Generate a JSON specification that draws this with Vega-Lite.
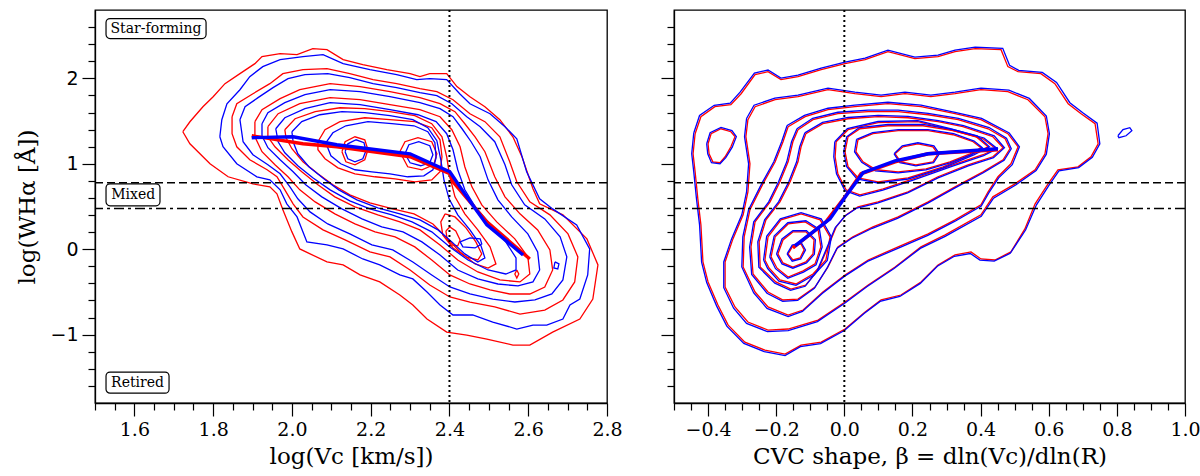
{
  "$schema": "https://vega.github.io/schema/vega-lite/v6.json",
  "padding": {"left": 16, "top": 8, "right": 0, "bottom": 2},
  "spacing": 36,
  "config": {
    "view": {"stroke": "black", "strokeWidth": 1.3},
    "axis": {"grid": false, "domainColor": "black", "domainWidth": 1.3, "tickColor": "black", "tickWidth": 1.2, "tickCount": 100, "labelColor": "black", "titleColor": "black", "labelFontSize": 19, "titleFontSize": 23, "titleFontWeight": "normal", "labelFont": "DejaVu Serif", "titleFont": "DejaVu Serif", "labelOverlap": false, "labelPadding": 4, "titlePadding": 6},
    "axisY": {"labelFont": "DejaVu Sans", "titlePadding": 10},
    "axisX": {"labelFlush": false}
  },
  "hconcat": [
    {
      "width": 512,
      "height": 393,
      "layer": [
        {
          "data": {"values": "s,c,x,y\nr,1,1.723,1.375\nr,1,1.741,1.492\nr,1,1.774,1.668\nr,1,1.800,1.785\nr,1,1.830,1.938\nr,1,1.868,2.055\nr,1,1.906,2.172\nr,1,1.924,2.254\nr,1,1.970,2.289\nr,1,2.013,2.278\nr,1,2.053,2.348\nr,1,2.089,2.336\nr,1,2.130,2.219\nr,1,2.180,2.160\nr,1,2.241,2.102\nr,1,2.300,2.055\nr,1,2.325,2.020\nr,1,2.350,2.055\nr,1,2.393,2.055\nr,1,2.419,1.903\nr,1,2.452,1.785\nr,1,2.490,1.668\nr,1,2.528,1.516\nr,1,2.561,1.316\nr,1,2.584,1.082\nr,1,2.612,0.707\nr,1,2.629,0.531\nr,1,2.688,0.402\nr,1,2.749,0.121\nr,1,2.777,-0.184\nr,1,2.764,-0.583\nr,1,2.731,-0.817\nr,1,2.662,-0.970\nr,1,2.604,-1.122\nr,1,2.561,-1.122\nr,1,2.495,-1.052\nr,1,2.444,-1.005\nr,1,2.393,-0.970\nr,1,2.343,-0.817\nr,1,2.307,-0.653\nr,1,2.274,-0.536\nr,1,2.223,-0.383\nr,1,2.173,-0.301\nr,1,2.130,-0.184\nr,1,2.089,-0.149\nr,1,2.020,0.003\nr,1,2.000,0.203\nr,1,1.977,0.461\nr,1,1.962,0.648\nr,1,1.944,0.730\nr,1,1.901,0.765\nr,1,1.838,0.848\nr,1,1.792,1.000\nr,1,1.741,1.234\nr,1,1.723,1.375\nr,2,1.848,1.551\nr,2,1.860,1.703\nr,2,1.901,1.820\nr,2,1.944,1.938\nr,2,1.977,2.055\nr,2,2.028,2.102\nr,2,2.089,2.114\nr,2,2.147,2.055\nr,2,2.206,1.985\nr,2,2.266,1.938\nr,2,2.325,1.879\nr,2,2.368,1.844\nr,2,2.409,1.750\nr,2,2.452,1.586\nr,2,2.490,1.493\nr,2,2.528,1.316\nr,2,2.553,1.023\nr,2,2.571,0.789\nr,2,2.604,0.554\nr,2,2.655,0.402\nr,2,2.701,0.179\nr,2,2.726,-0.090\nr,2,2.718,-0.383\nr,2,2.688,-0.594\nr,2,2.642,-0.712\nr,2,2.579,-0.759\nr,2,2.515,-0.676\nr,2,2.452,-0.618\nr,2,2.401,-0.559\nr,2,2.350,-0.419\nr,2,2.300,-0.243\nr,2,2.249,-0.090\nr,2,2.198,-0.032\nr,2,2.135,0.109\nr,2,2.079,0.226\nr,2,2.028,0.378\nr,2,2.003,0.531\nr,2,1.982,0.695\nr,2,1.962,0.848\nr,2,1.937,0.930\nr,2,1.893,1.047\nr,2,1.860,1.199\nr,2,1.848,1.352\nr,2,1.848,1.551\nr,3,1.906,1.493\nr,3,1.924,1.633\nr,3,1.970,1.762\nr,3,2.020,1.867\nr,3,2.097,1.938\nr,3,2.173,1.903\nr,3,2.249,1.844\nr,3,2.325,1.774\nr,3,2.376,1.703\nr,3,2.414,1.610\nr,3,2.439,1.469\nr,3,2.465,1.316\nr,3,2.490,1.141\nr,3,2.515,0.848\nr,3,2.541,0.613\nr,3,2.579,0.414\nr,3,2.624,0.226\nr,3,2.655,-0.008\nr,3,2.662,-0.243\nr,3,2.642,-0.442\nr,3,2.604,-0.524\nr,3,2.553,-0.524\nr,3,2.503,-0.477\nr,3,2.452,-0.407\nr,3,2.401,-0.301\nr,3,2.355,-0.126\nr,3,2.312,0.027\nr,3,2.262,0.144\nr,3,2.211,0.203\nr,3,2.160,0.296\nr,3,2.109,0.414\nr,3,2.059,0.554\nr,3,2.020,0.695\nr,3,1.990,0.848\nr,3,1.957,0.988\nr,3,1.924,1.141\nr,3,1.906,1.316\nr,3,1.906,1.493\nr,4,1.939,1.434\nr,4,1.965,1.586\nr,4,2.020,1.703\nr,4,2.097,1.774\nr,4,2.173,1.750\nr,4,2.249,1.692\nr,4,2.325,1.633\nr,4,2.376,1.551\nr,4,2.406,1.399\nr,4,2.427,1.199\nr,4,2.439,0.965\nr,4,2.457,0.730\nr,4,2.482,0.519\nr,4,2.520,0.320\nr,4,2.566,0.121\nr,4,2.599,-0.090\nr,4,2.604,-0.290\nr,4,2.579,-0.383\nr,4,2.528,-0.360\nr,4,2.472,-0.266\nr,4,2.421,-0.126\nr,4,2.376,0.050\nr,4,2.325,0.226\nr,4,2.274,0.320\nr,4,2.218,0.402\nr,4,2.160,0.496\nr,4,2.109,0.613\nr,4,2.066,0.754\nr,4,2.025,0.906\nr,4,1.990,1.047\nr,4,1.957,1.199\nr,4,1.939,1.316\nr,4,1.939,1.434\nr,5,1.982,1.399\nr,5,2.008,1.527\nr,5,2.059,1.610\nr,5,2.122,1.656\nr,5,2.185,1.645\nr,5,2.249,1.610\nr,5,2.312,1.563\nr,5,2.355,1.469\nr,5,2.381,1.316\nr,5,2.393,1.082\nr,5,2.401,0.848\nr,5,2.414,0.613\nr,5,2.439,0.414\nr,5,2.472,0.226\nr,5,2.503,0.027\nr,5,2.518,-0.172\nr,5,2.498,-0.220\nr,5,2.465,-0.172\nr,5,2.427,-0.032\nr,5,2.393,0.132\nr,5,2.358,0.296\nr,5,2.310,0.414\nr,5,2.256,0.472\nr,5,2.198,0.543\nr,5,2.147,0.636\nr,5,2.104,0.754\nr,5,2.066,0.883\nr,5,2.028,1.023\nr,5,2.000,1.176\nr,5,1.985,1.305\nr,5,1.982,1.399\nr,6,2.066,1.258\nr,6,2.084,1.399\nr,6,2.122,1.493\nr,6,2.185,1.539\nr,6,2.249,1.516\nr,6,2.312,1.493\nr,6,2.355,1.422\nr,6,2.376,1.281\nr,6,2.381,1.082\nr,6,2.376,0.906\nr,6,2.355,0.812\nr,6,2.312,0.789\nr,6,2.262,0.824\nr,6,2.211,0.848\nr,6,2.160,0.883\nr,6,2.117,0.953\nr,6,2.084,1.059\nr,6,2.066,1.164\nr,6,2.066,1.258\nr,7,2.127,1.141\nr,7,2.135,1.258\nr,7,2.160,1.316\nr,7,2.185,1.281\nr,7,2.193,1.164\nr,7,2.185,1.047\nr,7,2.160,0.988\nr,7,2.137,1.023\nr,7,2.127,1.141\nr,8,2.274,1.141\nr,8,2.287,1.258\nr,8,2.320,1.305\nr,8,2.355,1.258\nr,8,2.368,1.117\nr,8,2.360,0.988\nr,8,2.330,0.930\nr,8,2.294,0.965\nr,8,2.274,1.141\nr,9,2.389,0.414\nr,9,2.414,0.378\nr,9,2.442,0.250\nr,9,2.467,0.086\nr,9,2.482,-0.055\nr,9,2.472,-0.126\nr,9,2.442,-0.090\nr,9,2.409,0.015\nr,9,2.383,0.168\nr,9,2.378,0.320\nr,9,2.389,0.414\nr,10,2.391,0.214\nr,10,2.401,0.261\nr,10,2.416,0.214\nr,10,2.427,0.109\nr,10,2.421,0.039\nr,10,2.404,0.050\nr,10,2.394,0.121\nr,10,2.391,0.214\nr,11,2.571,-0.243\nr,11,2.576,-0.290\nr,11,2.571,-0.337\nr,11,2.566,-0.290\nr,11,2.571,-0.243\nb,1,1.817,1.316\nb,1,1.822,1.516\nb,1,1.835,1.703\nb,1,1.868,1.867\nb,1,1.893,2.020\nb,1,1.926,2.137\nb,1,1.970,2.219\nb,1,2.028,2.254\nb,1,2.079,2.278\nb,1,2.130,2.172\nb,1,2.198,2.102\nb,1,2.266,2.043\nb,1,2.317,1.985\nb,1,2.350,1.996\nb,1,2.393,1.985\nb,1,2.426,1.820\nb,1,2.452,1.703\nb,1,2.503,1.586\nb,1,2.541,1.434\nb,1,2.571,1.293\nb,1,2.596,0.906\nb,1,2.629,0.590\nb,1,2.662,0.472\nb,1,2.723,0.285\nb,1,2.756,0.003\nb,1,2.751,-0.301\nb,1,2.731,-0.583\nb,1,2.706,-0.653\nb,1,2.688,-0.817\nb,1,2.647,-0.888\nb,1,2.612,-0.888\nb,1,2.571,-0.934\nb,1,2.510,-0.852\nb,1,2.459,-0.770\nb,1,2.409,-0.770\nb,1,2.376,-0.653\nb,1,2.343,-0.501\nb,1,2.307,-0.348\nb,1,2.274,-0.301\nb,1,2.223,-0.184\nb,1,2.180,-0.114\nb,1,2.130,0.003\nb,1,2.089,0.050\nb,1,2.038,0.086\nb,1,2.013,0.378\nb,1,1.987,0.531\nb,1,1.970,0.695\nb,1,1.944,0.812\nb,1,1.911,0.848\nb,1,1.860,1.000\nb,1,1.825,1.199\nb,1,1.817,1.316\nb,2,1.868,1.516\nb,2,1.881,1.668\nb,2,1.914,1.774\nb,2,1.952,1.891\nb,2,1.990,1.996\nb,2,2.033,2.043\nb,2,2.091,2.055\nb,2,2.147,2.008\nb,2,2.206,1.938\nb,2,2.266,1.891\nb,2,2.325,1.832\nb,2,2.368,1.797\nb,2,2.406,1.703\nb,2,2.444,1.551\nb,2,2.478,1.434\nb,2,2.515,1.258\nb,2,2.541,0.988\nb,2,2.558,0.754\nb,2,2.591,0.519\nb,2,2.642,0.355\nb,2,2.681,0.144\nb,2,2.698,-0.090\nb,2,2.688,-0.360\nb,2,2.660,-0.524\nb,2,2.617,-0.594\nb,2,2.566,-0.618\nb,2,2.510,-0.583\nb,2,2.452,-0.524\nb,2,2.401,-0.442\nb,2,2.355,-0.301\nb,2,2.307,-0.149\nb,2,2.256,-0.008\nb,2,2.203,0.050\nb,2,2.147,0.179\nb,2,2.091,0.296\nb,2,2.046,0.437\nb,2,2.015,0.590\nb,2,1.995,0.730\nb,2,1.970,0.883\nb,2,1.939,0.988\nb,2,1.901,1.106\nb,2,1.876,1.258\nb,2,1.868,1.516\nb,3,1.924,1.469\nb,3,1.939,1.598\nb,3,1.982,1.715\nb,3,2.033,1.809\nb,3,2.097,1.867\nb,3,2.173,1.844\nb,3,2.249,1.785\nb,3,2.325,1.715\nb,3,2.376,1.645\nb,3,2.409,1.551\nb,3,2.432,1.410\nb,3,2.455,1.258\nb,3,2.478,1.082\nb,3,2.498,0.812\nb,3,2.523,0.578\nb,3,2.558,0.378\nb,3,2.599,0.179\nb,3,2.624,-0.032\nb,3,2.629,-0.243\nb,3,2.612,-0.383\nb,3,2.574,-0.430\nb,3,2.523,-0.407\nb,3,2.472,-0.348\nb,3,2.421,-0.243\nb,3,2.376,-0.067\nb,3,2.330,0.086\nb,3,2.282,0.203\nb,3,2.228,0.261\nb,3,2.178,0.355\nb,3,2.127,0.472\nb,3,2.076,0.613\nb,3,2.035,0.754\nb,3,2.003,0.906\nb,3,1.970,1.047\nb,3,1.939,1.188\nb,3,1.924,1.328\nb,3,1.924,1.469\nb,4,1.959,1.410\nb,4,1.982,1.539\nb,4,2.033,1.645\nb,4,2.097,1.715\nb,4,2.173,1.692\nb,4,2.249,1.633\nb,4,2.320,1.574\nb,4,2.366,1.493\nb,4,2.393,1.352\nb,4,2.409,1.164\nb,4,2.421,0.930\nb,4,2.439,0.695\nb,4,2.467,0.484\nb,4,2.503,0.296\nb,4,2.543,0.086\nb,4,2.569,-0.102\nb,4,2.569,-0.243\nb,4,2.543,-0.290\nb,4,2.498,-0.243\nb,4,2.447,-0.126\nb,4,2.401,0.027\nb,4,2.355,0.203\nb,4,2.305,0.320\nb,4,2.254,0.402\nb,4,2.198,0.472\nb,4,2.147,0.566\nb,4,2.097,0.695\nb,4,2.053,0.836\nb,4,2.015,0.977\nb,4,1.982,1.129\nb,4,1.965,1.258\nb,4,1.959,1.410\nb,5,2.000,1.375\nb,5,2.025,1.493\nb,5,2.071,1.574\nb,5,2.127,1.610\nb,5,2.185,1.598\nb,5,2.249,1.563\nb,5,2.307,1.516\nb,5,2.345,1.422\nb,5,2.368,1.270\nb,5,2.378,1.047\nb,5,2.386,0.812\nb,5,2.399,0.590\nb,5,2.421,0.402\nb,5,2.452,0.226\nb,5,2.480,0.039\nb,5,2.490,-0.102\nb,5,2.472,-0.149\nb,5,2.439,-0.055\nb,5,2.406,0.086\nb,5,2.371,0.226\nb,5,2.325,0.343\nb,5,2.274,0.414\nb,5,2.218,0.484\nb,5,2.165,0.578\nb,5,2.119,0.695\nb,5,2.081,0.824\nb,5,2.043,0.965\nb,5,2.015,1.117\nb,5,2.003,1.258\nb,5,2.000,1.375\nb,6,2.086,1.246\nb,6,2.104,1.363\nb,6,2.137,1.445\nb,6,2.193,1.493\nb,6,2.254,1.469\nb,6,2.310,1.445\nb,6,2.345,1.375\nb,6,2.363,1.246\nb,6,2.366,1.070\nb,6,2.358,0.930\nb,6,2.335,0.859\nb,6,2.294,0.848\nb,6,2.249,0.883\nb,6,2.203,0.906\nb,6,2.160,0.930\nb,6,2.124,1.000\nb,6,2.099,1.094\nb,6,2.086,1.246\nb,7,2.135,1.141\nb,7,2.142,1.234\nb,7,2.163,1.281\nb,7,2.183,1.246\nb,7,2.188,1.152\nb,7,2.180,1.059\nb,7,2.160,1.023\nb,7,2.142,1.059\nb,7,2.135,1.141\nb,8,2.287,1.117\nb,8,2.297,1.223\nb,8,2.322,1.258\nb,8,2.350,1.211\nb,8,2.358,1.106\nb,8,2.350,1.012\nb,8,2.327,0.977\nb,8,2.300,1.012\nb,8,2.287,1.117\nb,10,2.427,0.086\nb,10,2.452,0.132\nb,10,2.478,0.121\nb,10,2.482,0.062\nb,10,2.465,0.015\nb,10,2.434,0.027\nb,10,2.427,0.086\nb,11,2.668,-0.149\nb,11,2.678,-0.172\nb,11,2.675,-0.231\nb,11,2.665,-0.219\nb,11,2.668,-0.149", "format": {"type": "csv", "parse": {"x": "number", "y": "number"}}},
          "mark": {"type": "line", "strokeWidth": 1.3, "clip": true},
          "encoding": {
            "x": {"field": "x", "type": "quantitative", "scale": {"domain": [1.5, 2.8], "nice": false, "zero": false},
              "axis": {"title": "log(Vc [km/s])", "tickCount": 100, "values": [1.5, 1.55, 1.6, 1.65, 1.7, 1.75, 1.8, 1.85, 1.9, 1.95, 2, 2.05, 2.1, 2.15, 2.2, 2.25, 2.3, 2.35, 2.4, 2.45, 2.5, 2.55, 2.6, 2.65, 2.7, 2.75, 2.8],
                "labelExpr": "abs(datum.value*5-round(datum.value*5))<0.01 ? format(datum.value,'.1f') : ''",
                "tickSize": {"condition": {"test": "abs(datum.value*5-round(datum.value*5))<0.01", "value": 13}, "value": 7}}},
            "y": {"field": "y", "type": "quantitative", "scale": {"domain": [-1.8, 2.8], "nice": false, "zero": false},
              "axis": {"title": "log(WHα [Å])", "tickCount": 100, "values": [-1.6, -1.4, -1.2, -1, -0.8, -0.6, -0.4, -0.2, 0, 0.2, 0.4, 0.6, 0.8, 1, 1.2, 1.4, 1.6, 1.8, 2, 2.2, 2.4, 2.6],
                "labelExpr": "abs(datum.value-round(datum.value))<0.01 ? format(datum.value,'d') : ''",
                "tickSize": {"condition": {"test": "abs(datum.value-round(datum.value))<0.01", "value": 13}, "value": 7}}},
            "color": {"field": "s", "type": "nominal", "scale": {"domain": ["r", "b"], "range": ["#ff0000", "#0000ff"]}, "legend": null},
            "detail": {"field": "c", "type": "nominal"},
            "order": {"value": null}
          }
        },
        {
          "data": {"values": [{"y": 0.778}]},
          "mark": {"type": "rule", "color": "black", "strokeWidth": 1.6, "strokeDash": [8, 4]},
          "encoding": {"y": {"field": "y", "type": "quantitative", "scale": {"domain": [-1.8, 2.8], "nice": false, "zero": false}}}
        },
        {
          "data": {"values": [{"y": 0.477}]},
          "mark": {"type": "rule", "color": "black", "strokeWidth": 1.6, "strokeDash": [10, 4, 3, 4]},
          "encoding": {"y": {"field": "y", "type": "quantitative", "scale": {"domain": [-1.8, 2.8], "nice": false, "zero": false}}}
        },
        {
          "data": {"values": [{"x": 2.4}]},
          "mark": {"type": "rule", "color": "black", "strokeWidth": 2, "strokeDash": [2, 3]},
          "encoding": {"x": {"field": "x", "type": "quantitative", "scale": {"domain": [1.5, 2.8], "nice": false, "zero": false}}}
        },
        {
          "data": {"values": [
            {"s": "r", "x": 1.898, "y": 1.328}, {"s": "r", "x": 2.028, "y": 1.234}, {"s": "r", "x": 2.114, "y": 1.199}, {"s": "r", "x": 2.300, "y": 1.082}, {"s": "r", "x": 2.401, "y": 0.883}, {"s": "r", "x": 2.409, "y": 0.789}, {"s": "r", "x": 2.495, "y": 0.320}, {"s": "r", "x": 2.604, "y": -0.114},
            {"s": "b", "x": 1.898, "y": 1.305}, {"s": "b", "x": 2.003, "y": 1.316}, {"s": "b", "x": 2.114, "y": 1.223}, {"s": "b", "x": 2.300, "y": 1.117}, {"s": "b", "x": 2.401, "y": 0.906}, {"s": "b", "x": 2.444, "y": 0.613}, {"s": "b", "x": 2.495, "y": 0.285}, {"s": "b", "x": 2.587, "y": -0.067}
          ]},
          "mark": {"type": "line", "strokeWidth": 3.4},
          "encoding": {
            "x": {"field": "x", "type": "quantitative", "scale": {"domain": [1.5, 2.8], "nice": false, "zero": false}},
            "y": {"field": "y", "type": "quantitative", "scale": {"domain": [-1.8, 2.8], "nice": false, "zero": false}},
            "color": {"field": "s", "type": "nominal", "scale": {"domain": ["r", "b"], "range": ["#ff0000", "#0000ff"]}, "legend": null},
            "order": {"value": null}
          }
        },
        {
          "data": {"values": [
            {"t": "Star-forming", "x1": 1.528, "x2": 1.782, "y1": 2.465, "y2": 2.700, "xm": 1.655, "ym": 2.582},
            {"t": "Mixed", "x1": 1.528, "x2": 1.665, "y1": 0.508, "y2": 0.765, "xm": 1.597, "ym": 0.636},
            {"t": "Retired", "x1": 1.528, "x2": 1.688, "y1": -1.685, "y2": -1.438, "xm": 1.608, "ym": -1.561}
          ]},
          "layer": [
            {
              "mark": {"type": "rect", "fill": "white", "stroke": "black", "strokeWidth": 1.2, "cornerRadius": 4},
              "encoding": {
                "x": {"field": "x1", "type": "quantitative", "scale": {"domain": [1.5, 2.8], "nice": false, "zero": false}},
                "x2": {"field": "x2"},
                "y": {"field": "y1", "type": "quantitative", "scale": {"domain": [-1.8, 2.8], "nice": false, "zero": false}},
                "y2": {"field": "y2"}
              }
            },
            {
              "mark": {"type": "text", "font": "DejaVu Serif", "fontSize": 14, "color": "black"},
              "encoding": {
                "x": {"field": "xm", "type": "quantitative", "scale": {"domain": [1.5, 2.8], "nice": false, "zero": false}},
                "y": {"field": "ym", "type": "quantitative", "scale": {"domain": [-1.8, 2.8], "nice": false, "zero": false}},
                "text": {"field": "t"}
              }
            }
          ]
        }
      ]
    },
    {
      "width": 511,
      "height": 393,
      "layer": [
        {
          "data": {"values": "s,c,x,y\nr,1,-0.438,1.352\nr,1,-0.421,1.551\nr,1,-0.380,1.668\nr,1,-0.333,1.692\nr,1,-0.303,1.820\nr,1,-0.262,2.043\nr,1,-0.224,2.078\nr,1,-0.186,1.985\nr,1,-0.136,2.020\nr,1,-0.068,2.102\nr,1,0.002,2.172\nr,1,0.061,2.219\nr,1,0.128,2.313\nr,1,0.207,2.231\nr,1,0.275,2.254\nr,1,0.325,2.313\nr,1,0.384,2.348\nr,1,0.460,2.336\nr,1,0.480,2.137\nr,1,0.510,2.078\nr,1,0.577,2.055\nr,1,0.618,1.938\nr,1,0.657,1.703\nr,1,0.695,1.586\nr,1,0.736,1.469\nr,1,0.745,1.234\nr,1,0.724,1.082\nr,1,0.686,0.965\nr,1,0.627,0.930\nr,1,0.598,0.765\nr,1,0.560,0.531\nr,1,0.530,0.238\nr,1,0.489,-0.032\nr,1,0.442,-0.126\nr,1,0.401,-0.114\nr,1,0.372,-0.032\nr,1,0.325,-0.067\nr,1,0.275,-0.184\nr,1,0.225,-0.383\nr,1,0.166,-0.536\nr,1,0.108,-0.594\nr,1,0.061,-0.735\nr,1,0.002,-0.934\nr,1,-0.068,-1.087\nr,1,-0.127,-1.122\nr,1,-0.174,-1.227\nr,1,-0.233,-1.181\nr,1,-0.292,-1.087\nr,1,-0.341,-0.888\nr,1,-0.371,-0.653\nr,1,-0.400,-0.383\nr,1,-0.415,-0.149\nr,1,-0.421,0.285\nr,1,-0.430,0.590\nr,1,-0.438,0.906\nr,1,-0.444,1.117\nr,1,-0.438,1.352\nr,2,-0.283,1.516\nr,2,-0.262,1.668\nr,2,-0.203,1.750\nr,2,-0.136,1.785\nr,2,-0.048,1.867\nr,2,0.031,1.820\nr,2,0.108,1.785\nr,2,0.178,1.820\nr,2,0.254,1.785\nr,2,0.325,1.820\nr,2,0.401,1.867\nr,2,0.480,1.844\nr,2,0.539,1.750\nr,2,0.589,1.551\nr,2,0.598,1.352\nr,2,0.589,1.117\nr,2,0.560,0.930\nr,2,0.501,0.765\nr,2,0.436,0.613\nr,2,0.401,0.402\nr,2,0.296,0.168\nr,2,0.225,0.027\nr,2,0.149,-0.208\nr,2,0.070,-0.419\nr,2,0.002,-0.618\nr,2,-0.077,-0.829\nr,2,-0.165,-0.934\nr,2,-0.224,-0.946\nr,2,-0.283,-0.852\nr,2,-0.321,-0.676\nr,2,-0.350,-0.442\nr,2,-0.350,-0.149\nr,2,-0.327,0.121\nr,2,-0.297,0.402\nr,2,-0.283,0.672\nr,2,-0.277,1.000\nr,2,-0.289,1.317\nr,2,-0.283,1.516\nr,3,-0.165,1.434\nr,3,-0.115,1.551\nr,3,-0.048,1.633\nr,3,0.031,1.668\nr,3,0.128,1.703\nr,3,0.225,1.668\nr,3,0.325,1.586\nr,3,0.401,1.516\nr,3,0.480,1.352\nr,3,0.510,1.199\nr,3,0.489,1.000\nr,3,0.451,0.848\nr,3,0.422,0.672\nr,3,0.401,0.519\nr,3,0.325,0.343\nr,3,0.246,0.179\nr,3,0.158,0.027\nr,3,0.070,-0.126\nr,3,0.002,-0.301\nr,3,-0.063,-0.501\nr,3,-0.121,-0.712\nr,3,-0.165,-0.770\nr,3,-0.224,-0.676\nr,3,-0.262,-0.501\nr,3,-0.297,-0.208\nr,3,-0.294,0.144\nr,3,-0.277,0.461\nr,3,-0.239,0.765\nr,3,-0.203,1.023\nr,3,-0.180,1.258\nr,3,-0.165,1.434\nr,4,-0.136,1.398\nr,4,-0.092,1.516\nr,4,-0.019,1.586\nr,4,0.070,1.610\nr,4,0.158,1.610\nr,4,0.246,1.574\nr,4,0.334,1.516\nr,4,0.422,1.410\nr,4,0.472,1.293\nr,4,0.486,1.176\nr,4,0.466,1.047\nr,4,0.407,0.906\nr,4,0.325,0.730\nr,4,0.246,0.554\nr,4,0.158,0.378\nr,4,0.084,0.261\nr,4,0.025,0.144\nr,4,-0.019,0.027\nr,4,-0.048,-0.208\nr,4,-0.086,-0.442\nr,4,-0.136,-0.583\nr,4,-0.180,-0.594\nr,4,-0.224,-0.501\nr,4,-0.268,-0.290\nr,4,-0.274,0.027\nr,4,-0.262,0.320\nr,4,-0.218,0.554\nr,4,-0.189,0.789\nr,4,-0.165,1.023\nr,4,-0.151,1.258\nr,4,-0.136,1.398\nr,5,-0.113,1.352\nr,5,-0.063,1.469\nr,5,0.011,1.527\nr,5,0.099,1.551\nr,5,0.187,1.539\nr,5,0.275,1.493\nr,5,0.348,1.434\nr,5,0.436,1.317\nr,5,0.466,1.187\nr,5,0.436,1.082\nr,5,0.363,0.988\nr,5,0.275,0.848\nr,5,0.187,0.672\nr,5,0.099,0.554\nr,5,0.040,0.496\nr,5,0.005,0.402\nr,5,-0.024,0.261\nr,5,-0.048,0.027\nr,5,-0.077,-0.243\nr,5,-0.113,-0.419\nr,5,-0.157,-0.466\nr,5,-0.201,-0.383\nr,5,-0.247,-0.208\nr,5,-0.250,0.086\nr,5,-0.230,0.343\nr,5,-0.189,0.554\nr,5,-0.159,0.789\nr,5,-0.136,1.023\nr,5,-0.127,1.199\nr,5,-0.113,1.352\nr,6,-0.024,1.258\nr,6,0.011,1.399\nr,6,0.099,1.481\nr,6,0.216,1.493\nr,6,0.310,1.399\nr,6,0.407,1.293\nr,6,0.445,1.176\nr,6,0.407,1.106\nr,6,0.319,0.988\nr,6,0.202,0.824\nr,6,0.114,0.707\nr,6,0.046,0.637\nr,6,0.005,0.695\nr,6,-0.019,0.883\nr,6,-0.027,1.082\nr,6,-0.024,1.258\nr,7,0.011,1.317\nr,7,0.046,1.410\nr,7,0.128,1.445\nr,7,0.231,1.445\nr,7,0.319,1.387\nr,7,0.387,1.317\nr,7,0.422,1.199\nr,7,0.378,1.117\nr,7,0.290,0.965\nr,7,0.187,0.836\nr,7,0.099,0.789\nr,7,0.040,0.836\nr,7,0.011,0.965\nr,7,0.002,1.141\nr,7,0.011,1.317\nr,8,0.040,1.281\nr,8,0.084,1.352\nr,8,0.158,1.387\nr,8,0.246,1.387\nr,8,0.319,1.340\nr,8,0.378,1.258\nr,8,0.401,1.188\nr,8,0.369,1.117\nr,8,0.310,1.023\nr,8,0.240,0.941\nr,8,0.158,0.906\nr,8,0.093,0.930\nr,8,0.055,1.023\nr,8,0.034,1.141\nr,8,0.040,1.281\nr,9,0.149,1.117\nr,9,0.172,1.199\nr,9,0.216,1.234\nr,9,0.260,1.199\nr,9,0.275,1.117\nr,9,0.260,1.023\nr,9,0.210,0.988\nr,9,0.166,1.023\nr,9,0.149,1.117\nr,10,-0.165,-0.055\nr,10,-0.151,0.039\nr,10,-0.127,0.062\nr,10,-0.118,-0.008\nr,10,-0.130,-0.102\nr,10,-0.151,-0.126\nr,10,-0.165,-0.055\nr,11,-0.195,-0.055\nr,11,-0.180,0.109\nr,11,-0.151,0.203\nr,11,-0.113,0.203\nr,11,-0.089,0.109\nr,11,-0.092,-0.055\nr,11,-0.113,-0.149\nr,11,-0.151,-0.208\nr,11,-0.180,-0.161\nr,11,-0.195,-0.055\nr,12,-0.215,-0.090\nr,12,-0.203,0.144\nr,12,-0.165,0.296\nr,12,-0.115,0.320\nr,12,-0.077,0.226\nr,12,-0.069,0.027\nr,12,-0.086,-0.172\nr,12,-0.121,-0.254\nr,12,-0.165,-0.325\nr,12,-0.198,-0.219\nr,12,-0.215,-0.090\nr,13,-0.233,-0.126\nr,13,-0.224,0.144\nr,13,-0.186,0.343\nr,13,-0.127,0.414\nr,13,-0.071,0.343\nr,13,-0.042,0.144\nr,13,-0.054,-0.126\nr,13,-0.092,-0.290\nr,13,-0.142,-0.407\nr,13,-0.189,-0.360\nr,13,-0.221,-0.219\nr,13,-0.233,-0.126\nr,14,-0.400,1.234\nr,14,-0.391,1.352\nr,14,-0.362,1.410\nr,14,-0.333,1.375\nr,14,-0.321,1.317\nr,14,-0.333,1.199\nr,14,-0.350,1.082\nr,14,-0.365,1.012\nr,14,-0.386,1.023\nr,14,-0.397,1.117\nr,14,-0.400,1.234\nb,1,-0.442,1.360\nb,1,-0.425,1.565\nb,1,-0.382,1.685\nb,1,-0.335,1.710\nb,1,-0.306,1.838\nb,1,-0.264,2.062\nb,1,-0.224,2.097\nb,1,-0.186,2.003\nb,1,-0.136,2.038\nb,1,-0.068,2.120\nb,1,0.002,2.190\nb,1,0.061,2.237\nb,1,0.128,2.331\nb,1,0.207,2.249\nb,1,0.275,2.272\nb,1,0.325,2.331\nb,1,0.384,2.366\nb,1,0.465,2.352\nb,1,0.485,2.152\nb,1,0.512,2.094\nb,1,0.581,2.070\nb,1,0.623,1.952\nb,1,0.662,1.715\nb,1,0.700,1.598\nb,1,0.742,1.475\nb,1,0.750,1.234\nb,1,0.728,1.076\nb,1,0.688,0.955\nb,1,0.630,0.918\nb,1,0.601,0.750\nb,1,0.564,0.520\nb,1,0.532,0.225\nb,1,0.487,-0.048\nb,1,0.440,-0.140\nb,1,0.398,-0.128\nb,1,0.370,-0.050\nb,1,0.323,-0.083\nb,1,0.273,-0.200\nb,1,0.223,-0.400\nb,1,0.163,-0.553\nb,1,0.105,-0.611\nb,1,0.058,-0.752\nb,1,0.000,-0.952\nb,1,-0.070,-1.105\nb,1,-0.129,-1.140\nb,1,-0.174,-1.245\nb,1,-0.235,-1.199\nb,1,-0.295,-1.103\nb,1,-0.345,-0.900\nb,1,-0.375,-0.663\nb,1,-0.404,-0.390\nb,1,-0.419,-0.150\nb,1,-0.425,0.285\nb,1,-0.434,0.590\nb,1,-0.442,0.906\nb,1,-0.448,1.117\nb,1,-0.442,1.360\nb,2,-0.287,1.530\nb,2,-0.265,1.686\nb,2,-0.204,1.768\nb,2,-0.136,1.803\nb,2,-0.048,1.885\nb,2,0.031,1.838\nb,2,0.108,1.803\nb,2,0.178,1.838\nb,2,0.254,1.803\nb,2,0.325,1.838\nb,2,0.401,1.885\nb,2,0.483,1.862\nb,2,0.543,1.765\nb,2,0.593,1.560\nb,2,0.602,1.352\nb,2,0.593,1.112\nb,2,0.563,0.920\nb,2,0.503,0.752\nb,2,0.438,0.598\nb,2,0.402,0.385\nb,2,0.296,0.150\nb,2,0.223,0.010\nb,2,0.146,-0.225\nb,2,0.067,-0.436\nb,2,0.000,-0.636\nb,2,-0.079,-0.847\nb,2,-0.165,-0.952\nb,2,-0.226,-0.964\nb,2,-0.287,-0.868\nb,2,-0.325,-0.690\nb,2,-0.354,-0.450\nb,2,-0.354,-0.149\nb,2,-0.331,0.121\nb,2,-0.301,0.402\nb,2,-0.287,0.672\nb,2,-0.281,1.000\nb,2,-0.293,1.317\nb,2,-0.287,1.530\nb,3,-0.168,1.448\nb,3,-0.117,1.567\nb,3,-0.048,1.650\nb,3,0.031,1.686\nb,3,0.128,1.720\nb,3,0.225,1.686\nb,3,0.325,1.603\nb,3,0.403,1.532\nb,3,0.484,1.360\nb,3,0.514,1.199\nb,3,0.493,0.990\nb,3,0.453,0.835\nb,3,0.424,0.660\nb,3,0.402,0.505\nb,3,0.325,0.328\nb,3,0.245,0.163\nb,3,0.157,0.010\nb,3,0.068,-0.142\nb,3,0.000,-0.318\nb,3,-0.065,-0.518\nb,3,-0.123,-0.728\nb,3,-0.165,-0.788\nb,3,-0.227,-0.692\nb,3,-0.266,-0.512\nb,3,-0.301,-0.208\nb,3,-0.298,0.144\nb,3,-0.281,0.461\nb,3,-0.243,0.765\nb,3,-0.207,1.023\nb,3,-0.184,1.258\nb,3,-0.168,1.448\nb,4,-0.139,1.410\nb,4,-0.093,1.532\nb,4,-0.019,1.603\nb,4,0.070,1.627\nb,4,0.158,1.627\nb,4,0.246,1.590\nb,4,0.335,1.532\nb,4,0.425,1.424\nb,4,0.476,1.300\nb,4,0.490,1.176\nb,4,0.469,1.040\nb,4,0.408,0.895\nb,4,0.325,0.718\nb,4,0.245,0.540\nb,4,0.156,0.362\nb,4,0.082,0.245\nb,4,0.022,0.128\nb,4,-0.022,0.010\nb,4,-0.051,-0.222\nb,4,-0.088,-0.458\nb,4,-0.137,-0.600\nb,4,-0.181,-0.610\nb,4,-0.227,-0.515\nb,4,-0.272,-0.295\nb,4,-0.278,0.027\nb,4,-0.266,0.320\nb,4,-0.222,0.554\nb,4,-0.193,0.789\nb,4,-0.169,1.023\nb,4,-0.155,1.258\nb,4,-0.139,1.410\nb,5,-0.116,1.362\nb,5,-0.064,1.484\nb,5,0.011,1.542\nb,5,0.099,1.566\nb,5,0.187,1.554\nb,5,0.276,1.506\nb,5,0.350,1.446\nb,5,0.440,1.326\nb,5,0.470,1.187\nb,5,0.438,1.072\nb,5,0.364,0.975\nb,5,0.275,0.835\nb,5,0.186,0.660\nb,5,0.097,0.540\nb,5,0.037,0.482\nb,5,0.002,0.388\nb,5,-0.027,0.250\nb,5,-0.051,0.020\nb,5,-0.080,-0.256\nb,5,-0.115,-0.434\nb,5,-0.158,-0.482\nb,5,-0.204,-0.397\nb,5,-0.251,-0.212\nb,5,-0.254,0.086\nb,5,-0.234,0.343\nb,5,-0.193,0.554\nb,5,-0.163,0.789\nb,5,-0.140,1.023\nb,5,-0.131,1.199\nb,5,-0.116,1.362\nb,6,-0.028,1.258\nb,6,0.009,1.412\nb,6,0.099,1.495\nb,6,0.216,1.506\nb,6,0.311,1.412\nb,6,0.410,1.302\nb,6,0.449,1.176\nb,6,0.409,1.095\nb,6,0.320,0.975\nb,6,0.202,0.810\nb,6,0.113,0.692\nb,6,0.045,0.622\nb,6,0.002,0.685\nb,6,-0.023,0.883\nb,6,-0.031,1.082\nb,6,-0.028,1.258\nb,7,0.007,1.317\nb,7,0.044,1.424\nb,7,0.128,1.460\nb,7,0.231,1.460\nb,7,0.320,1.400\nb,7,0.390,1.327\nb,7,0.426,1.199\nb,7,0.380,1.105\nb,7,0.290,0.952\nb,7,0.187,0.822\nb,7,0.099,0.775\nb,7,0.037,0.824\nb,7,0.007,0.965\nb,7,-0.002,1.141\nb,7,0.007,1.317\nb,8,0.036,1.285\nb,8,0.083,1.365\nb,8,0.158,1.400\nb,8,0.246,1.400\nb,8,0.321,1.352\nb,8,0.381,1.266\nb,8,0.405,1.188\nb,8,0.371,1.105\nb,8,0.310,1.010\nb,8,0.240,0.928\nb,8,0.158,0.893\nb,8,0.091,0.918\nb,8,0.051,1.018\nb,8,0.030,1.141\nb,8,0.036,1.285\nb,9,0.146,1.117\nb,9,0.170,1.210\nb,9,0.216,1.246\nb,9,0.263,1.210\nb,9,0.279,1.117\nb,9,0.262,1.012\nb,9,0.210,0.976\nb,9,0.163,1.012\nb,9,0.146,1.117\nb,10,-0.168,-0.055\nb,10,-0.153,0.048\nb,10,-0.126,0.074\nb,10,-0.114,-0.008\nb,10,-0.128,-0.114\nb,10,-0.153,-0.140\nb,10,-0.168,-0.055\nb,11,-0.199,-0.055\nb,11,-0.183,0.120\nb,11,-0.151,0.216\nb,11,-0.111,0.216\nb,11,-0.085,0.112\nb,11,-0.088,-0.060\nb,11,-0.111,-0.161\nb,11,-0.151,-0.222\nb,11,-0.183,-0.172\nb,11,-0.199,-0.055\nb,12,-0.219,-0.090\nb,12,-0.206,0.155\nb,12,-0.166,0.310\nb,12,-0.113,0.333\nb,12,-0.073,0.232\nb,12,-0.065,0.027\nb,12,-0.083,-0.182\nb,12,-0.120,-0.268\nb,12,-0.166,-0.340\nb,12,-0.202,-0.228\nb,12,-0.219,-0.090\nb,13,-0.237,-0.126\nb,13,-0.228,0.152\nb,13,-0.188,0.356\nb,13,-0.127,0.428\nb,13,-0.068,0.356\nb,13,-0.038,0.144\nb,13,-0.050,-0.132\nb,13,-0.089,-0.302\nb,13,-0.142,-0.422\nb,13,-0.192,-0.374\nb,13,-0.225,-0.226\nb,13,-0.237,-0.126\nb,14,-0.404,1.234\nb,14,-0.394,1.365\nb,14,-0.362,1.425\nb,14,-0.330,1.388\nb,14,-0.317,1.317\nb,14,-0.329,1.195\nb,14,-0.348,1.072\nb,14,-0.365,1.000\nb,14,-0.390,1.012\nb,14,-0.401,1.117\nb,14,-0.404,1.234\nb,15,0.803,1.328\nb,15,0.818,1.399\nb,15,0.838,1.422\nb,15,0.844,1.387\nb,15,0.827,1.328\nb,15,0.806,1.305\nb,15,0.803,1.328", "format": {"type": "csv", "parse": {"x": "number", "y": "number"}}},
          "mark": {"type": "line", "strokeWidth": 1.3, "clip": true},
          "encoding": {
            "x": {"field": "x", "type": "quantitative", "scale": {"domain": [-0.5, 1.0], "nice": false, "zero": false},
              "axis": {"title": "CVC shape, β = dln(Vc)/dln(R)", "tickCount": 100, "values": [-0.5, -0.45, -0.4, -0.35, -0.3, -0.25, -0.2, -0.15, -0.1, -0.05, 0, 0.05, 0.1, 0.15, 0.2, 0.25, 0.3, 0.35, 0.4, 0.45, 0.5, 0.55, 0.6, 0.65, 0.7, 0.75, 0.8, 0.85, 0.9, 0.95, 1.0],
                "labelExpr": "abs(datum.value*5-round(datum.value*5))<0.01 ? format(datum.value,'.1f') : ''",
                "tickSize": {"condition": {"test": "abs(datum.value*5-round(datum.value*5))<0.01", "value": 13}, "value": 7}}},
            "y": {"field": "y", "type": "quantitative", "scale": {"domain": [-1.8, 2.8], "nice": false, "zero": false},
              "axis": {"title": null, "labels": false, "tickCount": 100, "values": [-1.6, -1.4, -1.2, -1, -0.8, -0.6, -0.4, -0.2, 0, 0.2, 0.4, 0.6, 0.8, 1, 1.2, 1.4, 1.6, 1.8, 2, 2.2, 2.4, 2.6],
                "tickSize": {"condition": {"test": "abs(datum.value-round(datum.value))<0.01", "value": 13}, "value": 7}}},
            "color": {"field": "s", "type": "nominal", "scale": {"domain": ["r", "b"], "range": ["#ff0000", "#0000ff"]}, "legend": null},
            "detail": {"field": "c", "type": "nominal"},
            "order": {"value": null}
          }
        },
        {
          "data": {"values": [{"y": 0.778}]},
          "mark": {"type": "rule", "color": "black", "strokeWidth": 1.6, "strokeDash": [8, 4]},
          "encoding": {"y": {"field": "y", "type": "quantitative", "scale": {"domain": [-1.8, 2.8], "nice": false, "zero": false}}}
        },
        {
          "data": {"values": [{"y": 0.477}]},
          "mark": {"type": "rule", "color": "black", "strokeWidth": 1.6, "strokeDash": [10, 4, 3, 4]},
          "encoding": {"y": {"field": "y", "type": "quantitative", "scale": {"domain": [-1.8, 2.8], "nice": false, "zero": false}}}
        },
        {
          "data": {"values": [{"x": 0}]},
          "mark": {"type": "rule", "color": "black", "strokeWidth": 2, "strokeDash": [2, 3]},
          "encoding": {"x": {"field": "x", "type": "quantitative", "scale": {"domain": [-0.5, 1.0], "nice": false, "zero": false}}}
        },
        {
          "data": {"values": [
            {"s": "r", "x": -0.151, "y": 0.015}, {"s": "r", "x": -0.054, "y": 0.320}, {"s": "r", "x": 0.002, "y": 0.613}, {"s": "r", "x": 0.049, "y": 0.883}, {"s": "r", "x": 0.149, "y": 1.023}, {"s": "r", "x": 0.246, "y": 1.117}, {"s": "r", "x": 0.451, "y": 1.164},
            {"s": "b", "x": -0.145, "y": 0.039}, {"s": "b", "x": -0.042, "y": 0.355}, {"s": "b", "x": 0.005, "y": 0.625}, {"s": "b", "x": 0.055, "y": 0.895}, {"s": "b", "x": 0.149, "y": 1.035}, {"s": "b", "x": 0.246, "y": 1.117}, {"s": "b", "x": 0.451, "y": 1.176}
          ]},
          "mark": {"type": "line", "strokeWidth": 3.4},
          "encoding": {
            "x": {"field": "x", "type": "quantitative", "scale": {"domain": [-0.5, 1.0], "nice": false, "zero": false}},
            "y": {"field": "y", "type": "quantitative", "scale": {"domain": [-1.8, 2.8], "nice": false, "zero": false}},
            "color": {"field": "s", "type": "nominal", "scale": {"domain": ["r", "b"], "range": ["#ff0000", "#0000ff"]}, "legend": null},
            "order": {"value": null}
          }
        }
      ]
    }
  ]
}
